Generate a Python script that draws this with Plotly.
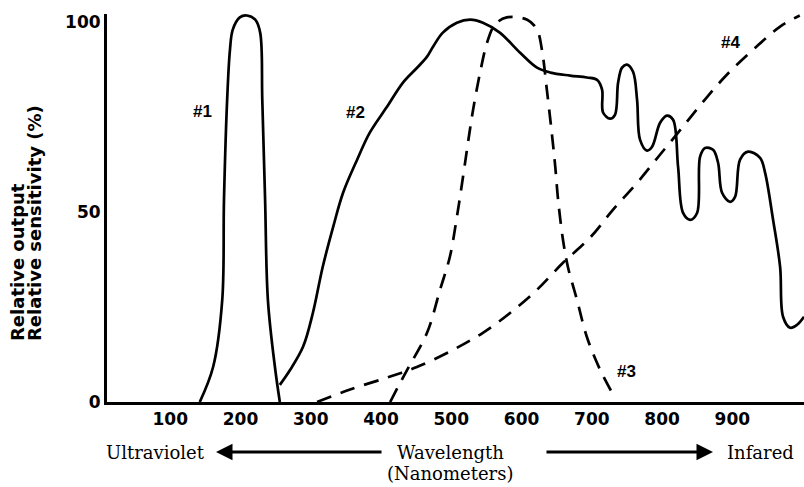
import plotly.graph_objects as go

# Curve #1 (solid, UV peak)
x1 = [142, 161, 174, 176.5, 181, 185, 189, 199, 209, 221, 228, 231, 235, 239, 249, 256]
y1 = [0, 9.2, 26.8, 53.2, 79.5, 92.6, 97.9, 101.1, 101.6, 100.5, 97.1, 79.5, 53.2, 26.8, 9.2, 0]

# Curve #2 (solid, broad response with dips)
x2 = [256, 270.5, 289, 303, 317, 332, 346, 366, 384, 408.5, 431, 452, 465.5, 474, 488, 508, 527, 545, 569,
      598, 622, 641, 669, 693, 707.5, 714.6, 716, 726, 733, 737.4, 743, 750, 758.7, 764.4, 768.7, 778.6,
      785.8, 797.2, 807, 815.7, 822.8, 829.9, 839.9, 849.8, 854.1, 861.2, 872.6, 879.7, 885.4, 896.8,
      903.9, 911, 922.4, 939.5, 946.6, 958, 968, 972.2, 982.2, 992.2, 1002]
y2 = [4.5, 8.4, 14.5, 23.4, 35.5, 46.1, 55.0, 63.7, 70.8, 77.6, 83.9, 88.0, 90.8, 93.4, 97.1, 99.7, 100.5, 99.7, 97.1,
      91.8, 87.9, 86.6, 85.8, 85.3, 84.7, 82.1, 76.1, 74.5, 75.5, 83.9, 87.9, 88.7, 86.8, 79.5, 68.9, 66.1,
      67.1, 73.4, 75.3, 74.2, 61.8, 49.7, 47.9, 49.7, 64.5, 66.8, 66.3, 62.9, 55.0, 52.6,
      53.9, 63.7, 65.8, 64.2, 60.3, 47.9, 35.5, 22.4, 19.5, 20.3, 22.4]

# Curve #3 (dashed, visible peak)
x3 = [413, 424, 437, 465.5, 484, 498, 508, 516.7, 523.8, 531, 541, 551, 562, 579, 608, 622, 629, 636,
      643, 648, 652, 659, 666, 679, 693, 712, 733]
y3 = [0, 3.9, 8.4, 18.2, 29.5, 38.2, 48.7, 59.2, 68.2, 76.8, 86.6, 94.5, 99.2, 101.1, 100.5, 97.9, 92.6, 82.1,
      70.8, 61.8, 53.2, 42.6, 35.5, 26.8, 17.1, 8.4, 1.1]

# Curve #4 (dashed, rising to infrared)
x4 = [309, 356, 408.5, 451, 502.5, 545, 583.6, 622, 659, 697.5, 730, 764.4, 797, 828.5, 861, 892.5, 929.5, 968, 996]
y4 = [0, 3.3, 6.4, 9.2, 13.7, 18.2, 23.4, 29.5, 36.6, 43.2, 50.5, 57.6, 65.0, 72.1, 79.5, 86.1, 92.6, 98.7, 101.6]

curve_labels = ["#1", "#2", "#3", "#4"]
label_x = [146, 363, 750, 897]
label_y = [76.3, 76.0, 8.0, 94.5]

x_tickvals = [100, 200, 300, 400, 500, 600, 700, 800, 900]
y_tickvals = [0, 50, 100]

fig = go.Figure()
line_style = dict(color="black", width=2.7, shape="spline", smoothing=1.0)
dash_style = dict(line_style, dash="15px,10px")
fig.add_trace(go.Scatter(x=x1, y=y1, mode="lines", line=line_style, cliponaxis=False))
fig.add_trace(go.Scatter(x=x2, y=y2, mode="lines", line=line_style, cliponaxis=False))
fig.add_trace(go.Scatter(x=x3, y=y3, mode="lines", line=dash_style, cliponaxis=False))
fig.add_trace(go.Scatter(x=x4, y=y4, mode="lines", line=dash_style, cliponaxis=False))

for t, lx, ly in zip(curve_labels, label_x, label_y):
    fig.add_annotation(x=lx, y=ly, text=f"<b>{t}</b>", showarrow=False, xanchor="center", yanchor="middle",
                       font=dict(family="Liberation Sans", size=17, color="black"))

# helpers: paper coords relative to plot area (x 107..804, y 14..402)
def px(xp):
    return (xp - 107) / 697.0

def py(yp):
    return (402 - yp) / 388.0

serif = dict(family="DejaVu Serif", size=18, color="black")
for txt, cx, cy in [("Ultraviolet", 155, 452), ("Wavelength", 450, 452),
                    ("(Nanometers)", 450, 473), ("Infared", 760, 452)]:
    fig.add_annotation(xref="paper", yref="paper", x=px(cx), y=py(cy), text=txt, showarrow=False,
                       xanchor="center", yanchor="middle", font=serif)

# arrows
fig.add_annotation(xref="paper", yref="paper", x=px(216), y=py(452), ax=167, ay=0, text="",
                   showarrow=True, arrowhead=2, arrowsize=1.1, arrowwidth=3, arrowcolor="black")
fig.add_annotation(xref="paper", yref="paper", x=px(713), y=py(452), ax=-168, ay=0, text="",
                   showarrow=True, arrowhead=2, arrowsize=1.1, arrowwidth=3, arrowcolor="black")

# y-axis title (two lines, both starting at the same bottom point)
ytitle_font = dict(family="DejaVu Sans", size=18, color="black", weight="bold")
fig.add_annotation(xref="paper", yref="paper", x=px(17), y=py(343), xanchor="center", yanchor="bottom",
                   text="Relative output", textangle=-90, showarrow=False, font=ytitle_font)
fig.add_annotation(xref="paper", yref="paper", x=px(34), y=py(343), xanchor="center", yanchor="bottom",
                   text="Relative sensitivity (%)", textangle=-90, showarrow=False, font=ytitle_font)

tick_font = dict(family="DejaVu Sans", size=17, color="black", weight="bold")
fig.update_layout(
    width=804, height=487,
    margin=dict(l=107, r=0, t=14, b=85),
    plot_bgcolor="white", paper_bgcolor="white",
    showlegend=False,
    xaxis=dict(range=[10, 1002], tickvals=x_tickvals, ticktext=[str(v) for v in x_tickvals],
               showgrid=False, zeroline=False, showline=True, linecolor="black", linewidth=3,
               ticks="", tickfont=tick_font),
    yaxis=dict(range=[0, 102], tickvals=y_tickvals, ticktext=[str(v) for v in y_tickvals],
               showgrid=False, zeroline=False, showline=True, linecolor="black", linewidth=3,
               ticks="", tickfont=tick_font),
)

fig.write_html("out.html", config={"displayModeBar": False},
               post_script="document.body.style.margin='0';document.body.style.overflow='hidden';")
